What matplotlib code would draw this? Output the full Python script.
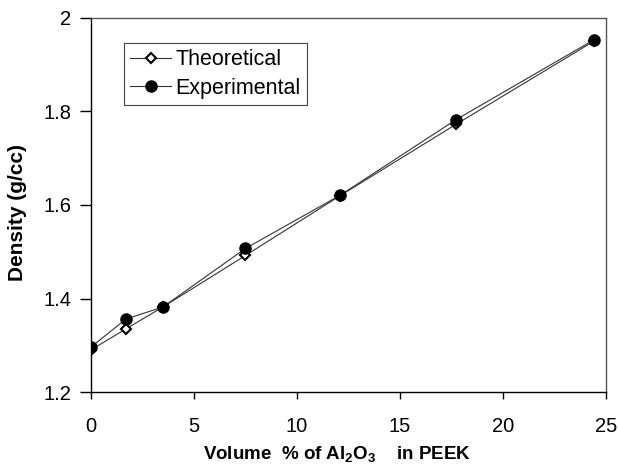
import numpy as np
import matplotlib
matplotlib.use("Agg")
import matplotlib.pyplot as plt

plt.rcParams['font.family'] = ['Liberation Sans', 'DejaVu Sans']
plt.rcParams['mathtext.fontset'] = 'custom'
plt.rcParams['mathtext.rm'] = 'Liberation Sans'
plt.rcParams['mathtext.bf'] = 'Liberation Sans:bold'

# データ
vol_pct = [0, 1.7, 3.5, 7.5, 12.1, 17.7, 24.4]
theoretical = [1.290, 1.335, 1.382, 1.492, 1.620, 1.772, 1.950]
experimental = [1.296, 1.356, 1.382, 1.507, 1.621, 1.782, 1.953]

x_ticks = [0, 5, 10, 15, 20, 25]
y_ticks = [1.2, 1.4, 1.6, 1.8, 2.0]
y_ticklabels = ['1.2', '1.4', '1.6', '1.8', '2']

fig = plt.figure(figsize=(6.18, 4.69), dpi=100)
ax = fig.add_axes([0.147, 0.164, 0.834, 0.798])

ax.plot(vol_pct, theoretical, color='#333333', lw=0.8, marker='D', ms=5.5,
        mfc='white', mec='black', mew=1.5, label='Theoretical')
ax.plot(vol_pct, experimental, color='#333333', lw=0.8, marker='o', ms=8,
        mfc='black', mec='black', label='Experimental')

ax.set_xlim(0, 25)
ax.set_ylim(1.2, 2.0)
ax.set_xticks(x_ticks)
ax.set_yticks(y_ticks)
ax.set_yticklabels(y_ticklabels)
ax.tick_params(axis='x', direction='out', length=5, width=1, labelsize=14.5, pad=13)
ax.tick_params(axis='y', direction='out', length=8, width=1, labelsize=14.5, pad=6)

for s in ax.spines.values():
    s.set_linewidth(1.0)
    s.set_color('#555555')
ax.spines['left'].set_color('black')
ax.spines['bottom'].set_color('black')

ax.set_xlabel(r'Volume  % of Al$_\mathbf{2}$O$_\mathbf{3}$    in PEEK',
              fontsize=13.5, fontweight='bold')
ax.set_ylabel('Density (g/cc)', fontsize=15, fontweight='bold')
ax.xaxis.set_label_coords(0.478, -0.14)
ax.yaxis.set_label_coords(-0.124, 0.48)

leg = ax.legend(loc='upper left', bbox_to_anchor=(0.064, 0.933), fontsize=15.5,
                fancybox=False, framealpha=1, edgecolor='#444444',
                handlelength=1.9, handletextpad=0.2, borderpad=0.3,
                labelspacing=0.35, borderaxespad=0)
leg.get_frame().set_linewidth(0.8)

fig.savefig('out.png', dpi=100)
